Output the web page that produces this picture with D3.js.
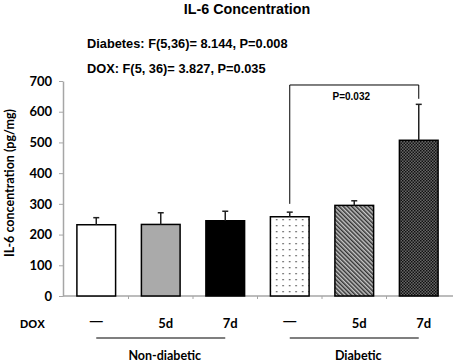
<!DOCTYPE html>
<html>
<head>
<meta charset="utf-8">
<script src="https://cdn.jsdelivr.net/npm/d3@7.9.0/dist/d3.min.js"></script>
<style>
  body { margin: 0; background: #fff; }
  svg { display: block; }
</style>
</head>
<body>
<div id="chart"></div>
<script>
// data
const categories = ["ND-none", "ND-5d", "ND-7d", "D-none", "D-5d", "D-7d"];
const means = [232, 233, 245, 258, 295, 507];
const errors = [23, 38, 31, 15, 15, 117];
const doxLabels = ["\u2014", "5d", "7d", "\u2014", "5d", "7d"];
const groupNames = ["Non-diabetic", "Diabetic"];
const groupFirst = [0, 3];
const groupLast = [2, 5];
const yTicks = [0, 100, 200, 300, 400, 500, 600, 700];
const statLines = ["Diabetes: F(5,36)= 8.144, P=0.008", "DOX: F(5, 36)= 3.827, P=0.035"];
const sigFrom = 3, sigTo = 5, sigLabel = "P=0.032";
const sigTop = 687, sigLeftEnd = 300, sigRightEnd = 642;

const W = 454, H = 363;
const arial = "'Liberation Sans', Arial, sans-serif";
const calibri = "Lato, 'Open Sans', sans-serif";

const svg = d3.select("#chart").append("svg")
  .attr("width", W)
  .attr("height", H);

// fill patterns
const defs = svg.append("defs");

const dots = defs.append("pattern")
  .attr("id", "dots").attr("patternUnits", "userSpaceOnUse")
  .attr("width", 6.5).attr("height", 6);
dots.append("rect").attr("width", 6.5).attr("height", 6).attr("fill", "#fff");
dots.append("rect").attr("x", 3).attr("y", 3).attr("width", 1.3).attr("height", 1.3).attr("fill", "#444");

const diag = defs.append("pattern")
  .attr("id", "diag").attr("patternUnits", "userSpaceOnUse")
  .attr("width", 3).attr("height", 3)
  .attr("patternTransform", "rotate(-45)");
diag.append("rect").attr("width", 3).attr("height", 3).attr("fill", "#c8c8c8");
diag.append("rect").attr("width", 1.5).attr("height", 3).attr("fill", "#333");

const checker = defs.append("pattern")
  .attr("id", "checker").attr("patternUnits", "userSpaceOnUse")
  .attr("width", 3).attr("height", 3);
checker.append("rect").attr("width", 3).attr("height", 3).attr("fill", "#666");
checker.append("rect").attr("width", 1.5).attr("height", 1.5).attr("fill", "#111");
checker.append("rect").attr("x", 1.5).attr("y", 1.5).attr("width", 1.5).attr("height", 1.5).attr("fill", "#111");

const fills = ["#fff", "#aaaaaa", "#000", "url(#dots)", "url(#diag)", "url(#checker)"];

// scales
const x = d3.scaleBand()
  .domain(categories)
  .range([64, 451])
  .paddingInner(0.4)
  .paddingOuter(0.2);

const y = d3.scaleLinear()
  .domain([0, 700])
  .range([296, 81]);

const cx = i => x(categories[i]) + x.bandwidth() / 2;

// y axis
const yAxis = svg.append("g")
  .attr("transform", "translate(63,0)")
  .call(d3.axisLeft(y).tickValues(yTicks).tickSize(4).tickPadding(7).tickSizeOuter(0));
yAxis.select(".domain").attr("stroke", "#a6a6a6").attr("stroke-width", 1.5);
yAxis.selectAll(".tick line").attr("stroke", "#a6a6a6");
yAxis.selectAll(".tick text")
  .attr("font-family", calibri)
  .attr("font-weight", "bold")
  .attr("font-size", 13)
  .attr("fill", "#000");

// x axis line with ticks between categories
const xAxis = svg.append("g");
xAxis.append("line")
  .attr("x1", 63).attr("x2", 453)
  .attr("y1", y(0)).attr("y2", y(0))
  .attr("stroke", "#a6a6a6").attr("stroke-width", 1.5);
xAxis.selectAll("line.tk")
  .data(categories.slice(1))
  .join("line")
  .attr("class", "tk")
  .attr("x1", d => x(d) - x.step() * x.paddingInner() / 2)
  .attr("x2", d => x(d) - x.step() * x.paddingInner() / 2)
  .attr("y1", y(0)).attr("y2", y(0) + 3)
  .attr("stroke", "#a6a6a6");

// bars
svg.append("g")
  .selectAll("rect")
  .data(means)
  .join("rect")
  .attr("x", (d, i) => x(categories[i]))
  .attr("y", d => y(d))
  .attr("width", x.bandwidth())
  .attr("height", d => y(0) - y(d))
  .attr("fill", (d, i) => fills[i])
  .attr("stroke", "#000")
  .attr("stroke-width", 1.5);

// error bars (upper only)
const err = svg.append("g").attr("stroke", "#222").attr("stroke-width", 1.5);
means.forEach((m, i) => {
  err.append("line")
    .attr("x1", cx(i)).attr("x2", cx(i))
    .attr("y1", y(m)).attr("y2", y(m + errors[i]));
  err.append("line")
    .attr("x1", cx(i) - 3).attr("x2", cx(i) + 3)
    .attr("y1", y(m + errors[i])).attr("y2", y(m + errors[i]));
});

// significance bracket
svg.append("path")
  .attr("d", d3.line()([
    [cx(sigFrom), y(sigLeftEnd)],
    [cx(sigFrom), y(sigTop)],
    [cx(sigTo), y(sigTop)],
    [cx(sigTo), y(sigRightEnd)]
  ]))
  .attr("fill", "none")
  .attr("stroke", "#000")
  .attr("stroke-width", 1);

svg.append("text")
  .attr("x", (cx(sigFrom) + cx(sigTo)) / 2 - 3)
  .attr("y", y(sigTop) + 15)
  .attr("text-anchor", "middle")
  .attr("font-family", arial)
  .attr("font-weight", "bold")
  .attr("font-size", 10)
  .text(sigLabel);

// title and stats
svg.append("text")
  .attr("x", 247).attr("y", 14)
  .attr("text-anchor", "middle")
  .attr("font-family", arial)
  .attr("font-weight", "bold")
  .attr("font-size", 14.3)
  .text("IL-6 Concentration");

svg.selectAll("text.stat")
  .data(statLines)
  .join("text")
  .attr("class", "stat")
  .attr("x", 87)
  .attr("y", (d, i) => 48 + i * 25)
  .attr("font-family", arial)
  .attr("font-weight", "bold")
  .attr("font-size", 12.8)
  .text(d => d);

// y axis title
svg.append("text")
  .attr("transform", "translate(14,183) rotate(-90)")
  .attr("text-anchor", "middle")
  .attr("font-family", calibri)
  .attr("font-weight", "bold")
  .attr("font-size", 12.5)
  .text("IL-6 concentration (pg/mg)");

// DOX row
svg.append("text")
  .attr("x", 20).attr("y", 328)
  .attr("font-family", arial)
  .attr("font-weight", "bold")
  .attr("font-size", 11.5)
  .text("DOX");

svg.selectAll("text.dox")
  .data(doxLabels)
  .join("text")
  .attr("class", "dox")
  .attr("x", (d, i) => cx(i) + (i % 3 === 0 ? 0 : 5))
  .attr("y", (d, i) => i % 3 === 0 ? 325 : 328)
  .attr("text-anchor", "middle")
  .attr("font-family", (d, i) => i % 3 === 0 ? arial : calibri)
  .attr("font-weight", "bold")
  .attr("font-size", 13)
  .text(d => d);

// group lines and names
groupNames.forEach((g, k) => {
  svg.append("line")
    .attr("x1", cx(groupFirst[k])).attr("x2", cx(groupLast[k]))
    .attr("y1", 338).attr("y2", 338)
    .attr("stroke", "#000").attr("stroke-width", 1.2);
  svg.append("text")
    .attr("x", (cx(groupFirst[k]) + cx(groupLast[k])) / 2 + 4)
    .attr("y", 360)
    .attr("text-anchor", "middle")
    .attr("font-family", calibri)
    .attr("font-weight", "bold")
    .attr("font-size", 12.5)
    .text(g);
});
</script>
</body>
</html>
